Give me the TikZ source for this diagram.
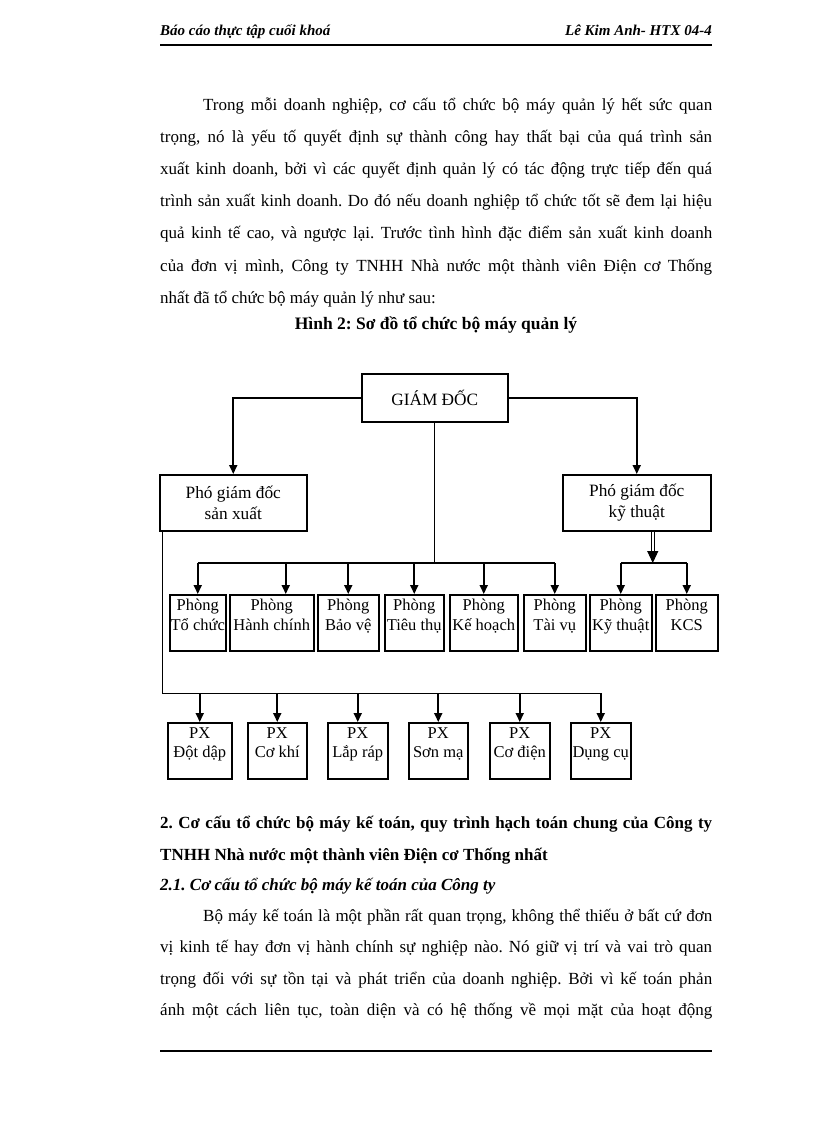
\documentclass[tikz,border=0pt]{standalone}
\usepackage{fontspec}
\setmainfont{Liberation Serif}
\usetikzlibrary{arrows.meta}
\frenchspacing

\tikzset{
  page/.style={x=1pt,y=-1pt},
  txt/.style={anchor=base west,inner sep=0pt,font=\fontsize{17}{20}\selectfont},
  box/.style={draw,line width=1.5pt,inner sep=0pt,anchor=north west,align=center,
    font=\fontsize{17.3}{21}\selectfont},
  lbl/.style={anchor=north,align=center,inner sep=0pt,yshift=-5pt,
    font=\fontsize{16.5}{19.5}\selectfont},
  unit/.style={box,minimum height=56pt,label={[lbl]north:{#1}}},
  arr/.style={line width=1.8pt,-{Triangle[length=9pt,width=8pt]}},
  bar/.style={line width=1.8pt},
  trunk/.style={line width=1pt},
  dbl/.style={double,double distance=1.6pt,line width=1.1pt,-{Triangle[length=12pt,width=11pt]}}
}
\newcommand{\jline}[2]{\makebox[#1][s]{#2}}

\begin{document}
\begin{tikzpicture}[page]
  \useasboundingbox (0,0) rectangle (816,1123);
  % header
  \node[txt,font=\fontsize{15}{18}\selectfont\bfseries\itshape] (hl) at (160,36) {Báo cáo thực tập cuối khoá};
  \node[txt,anchor=base east,font=\fontsize{15}{18}\selectfont\bfseries\itshape] (hr) at (712,36) {Lê Kim Anh- HTX 04-4};
  \draw[line width=1.5pt] (160,45) -- (712,45);

  % first paragraph
  \node[txt] (p1) at (203,111) {\jline{509pt}{Trong mỗi doanh nghiệp, cơ cấu tổ chức bộ máy quản lý hết sức quan}};
  \node[txt] (p2) at (160,143) {\jline{552pt}{trọng, nó là yếu tố quyết định sự thành công hay thất bại của quá trình sản}};
  \node[txt] (p3) at (160,175) {\jline{552pt}{xuất kinh doanh, bởi vì các quyết định quản lý có tác động trực tiếp đến quá}};
  \node[txt] (p4) at (160,207) {\jline{552pt}{trình sản xuất kinh doanh. Do đó nếu doanh nghiệp tổ chức tốt sẽ đem lại hiệu}};
  \node[txt] (p5) at (160,239) {\jline{552pt}{quả kinh tế cao, và ngược lại. Trước tình hình đặc điểm sản xuất kinh doanh}};
  \node[txt] (p6) at (160,271) {\jline{552pt}{của đơn vị mình, Công ty TNHH Nhà nước một thành viên Điện cơ Thống}};
  \node[txt] (p7) at (160,303) {nhất đã tổ chức bộ máy quản lý như sau:};
  \node[txt,anchor=base,font=\fontsize{17.5}{20}\selectfont\bfseries] (fig) at (436,329) {Hình 2: Sơ đồ tổ chức bộ máy quản lý};

  % chart
  \node[box,minimum width=146pt,minimum height=48pt] (gd) at (361,373) {GIÁM ĐỐC};
  \node[box,minimum width=147pt,minimum height=56pt] (pgsx) at (159,474) {Phó giám đốc\\sản xuất};
  \node[box,minimum width=148pt,minimum height=56pt] (pgkt) at (562,474) {Phó giám đốc\\kỹ thuật};

  \node[unit={Phòng\\Tổ chức},minimum width=56pt] (ptc) at (169,594) {};
  \node[unit={Phòng\\Hành chính},minimum width=84pt] (phc) at (229,594) {};
  \node[unit={Phòng\\Bảo vệ},minimum width=61pt] (pbv) at (317,594) {};
  \node[unit={Phòng\\Tiêu thụ},minimum width=59pt] (ptt) at (384,594) {};
  \node[unit={Phòng\\Kế hoạch},minimum width=68pt] (pkh) at (449,594) {};
  \node[unit={Phòng\\Tài vụ},minimum width=62pt] (ptv) at (523,594) {};
  \node[unit={Phòng\\Kỹ thuật},minimum width=62pt] (pkt) at (589,594) {};
  \node[unit={Phòng\\KCS},minimum width=62pt] (pkcs) at (655,594) {};

  \node[unit={PX\\Đột dập},minimum width=64pt] (xdd) at (167,722) {};
  \node[unit={PX\\Cơ khí},minimum width=59pt] (xck) at (247,722) {};
  \node[unit={PX\\Lắp ráp},minimum width=60pt] (xlr) at (327,722) {};
  \node[unit={PX\\Sơn mạ},minimum width=59pt] (xsm) at (408,722) {};
  \node[unit={PX\\Cơ điện},minimum width=60pt] (xcd) at (489,722) {};
  \node[unit={PX\\Dụng cụ},minimum width=60pt] (xdc) at (570,722) {};

  \coordinate (rbar) at (0,563);
  \coordinate (xbar) at (0,693);

  \draw[arr] (gd.west) -| (pgsx.north);
  \draw[arr] (gd.east) -| (pgkt.north);
  \draw[trunk] (gd.south) -- (gd.south |- rbar);
  \draw[bar] (ptc.north |- rbar) -- (ptv.north |- rbar);
  \foreach \n in {ptc,pbv,ptt,pkh,ptv}
    \draw[arr] (\n.north |- rbar) -- (\n.north);
  \draw[arr] ([xshift=14pt]phc.north |- rbar) -- ([xshift=14pt]phc.north);

  \draw[dbl] ([xshift=16pt]pgkt.south) -- ([xshift=16pt]pgkt.south |- rbar);
  \draw[bar] (pkt.north |- rbar) -- (pkcs.north |- rbar);
  \foreach \n in {pkt,pkcs}
    \draw[arr] (\n.north |- rbar) -- (\n.north);

  \draw[trunk] ([xshift=3pt]pgsx.south west) |- (xdc.north |- xbar);
  \foreach \n in {xdd,xck,xlr,xsm,xcd,xdc}
    \draw[arr] (\n.north |- xbar) -- (\n.north);

  % section 2
  \node[txt,font=\fontsize{17}{20}\selectfont\bfseries] (s1) at (160,828) {\jline{552pt}{2. Cơ cấu tổ chức bộ máy kế toán, quy trình hạch toán chung của Công ty}};
  \node[txt,font=\fontsize{17}{20}\selectfont\bfseries] (s2) at (160,860) {TNHH Nhà nước một thành viên Điện cơ Thống nhất};
  \node[txt,font=\fontsize{17}{20}\selectfont\bfseries\itshape] (s3) at (160,890) {2.1. Cơ cấu tổ chức bộ máy kế toán của Công ty};

  \node[txt] (q1) at (203,921) {\jline{509pt}{Bộ máy kế toán là một phần rất quan trọng, không thể thiếu ở bất cứ đơn}};
  \node[txt] (q2) at (160,952) {\jline{552pt}{vị kinh tế hay đơn vị hành chính sự nghiệp nào. Nó giữ vị trí và vai trò quan}};
  \node[txt] (q3) at (160,984) {\jline{552pt}{trọng đối với sự tồn tại và phát triển của doanh nghiệp. Bởi vì kế toán phản}};
  \node[txt] (q4) at (160,1015) {\jline{552pt}{ánh một cách liên tục, toàn diện và có hệ thống về mọi mặt của hoạt động}};

  % footer
  \draw[line width=2.5pt] (160,1051) -- (712,1051);
\end{tikzpicture}
\end{document}
